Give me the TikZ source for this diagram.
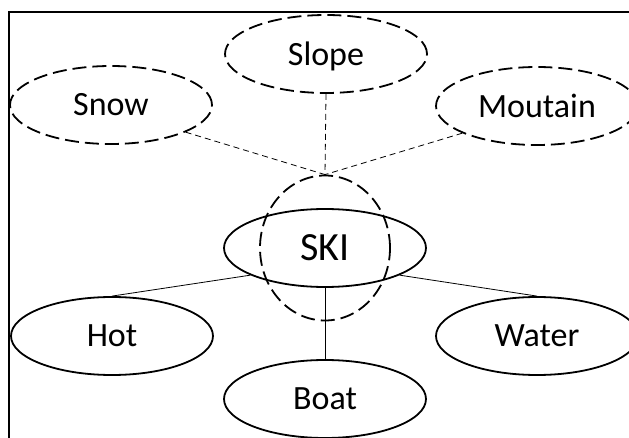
\documentclass[tikz,border=0pt]{standalone}
\usepackage{fontspec}
\setmainfont{Carlito}
\usetikzlibrary{shapes.geometric}
\begin{document}
\begin{tikzpicture}[x=1pt,y=-1pt,
  concept/.style={ellipse, draw, line width=1.8pt, minimum width=202pt,
    minimum height=78pt, inner sep=0pt, text depth=1pt,
    font=\fontsize{34}{38}\selectfont},
  guess/.style={concept, dash pattern=on 14pt off 6pt},
  link/.style={line width=0.8pt},
  hint/.style={link, dash pattern=on 6pt off 4pt}]
\useasboundingbox (0,0) rectangle (629,438);
% frame
\draw[line width=2pt] (9,438) -- (9,12.5) -- (629,12.5);

% associated words (dashed)
\node[guess] (snow)  at (111,105) {Snow};
\node[guess] (slope) at (326,54)  {Slope};
\node[guess] (mount) at (537,106) {Moutain};

% central word and its focus ring
\node[concept, font=\fontsize{40}{44}\selectfont] (ski) at (325,248) {SKI};
\node[ellipse, draw, line width=1.8pt, dash pattern=on 14pt off 6pt,
      minimum width=130pt, minimum height=145pt, inner sep=0pt] (focus) at (325,248) {};

% other words
\node[concept] (hot)   at (112,336) {Hot};
\node[concept] (water) at (537,336) {Water};
\node[concept] (boat)  at (325,399) {Boat};

% connectors
\draw[hint] (snow.340) -- (focus.north);
\draw[hint] (slope.south) -- (focus.north);
\draw[hint] (mount.200) -- (focus.north);
\draw[link] (ski.200) -- (hot.north);
\draw[link] (ski.340) -- (water.north);
\draw[link] (ski.south) -- (boat.north);
\end{tikzpicture}
\end{document}
